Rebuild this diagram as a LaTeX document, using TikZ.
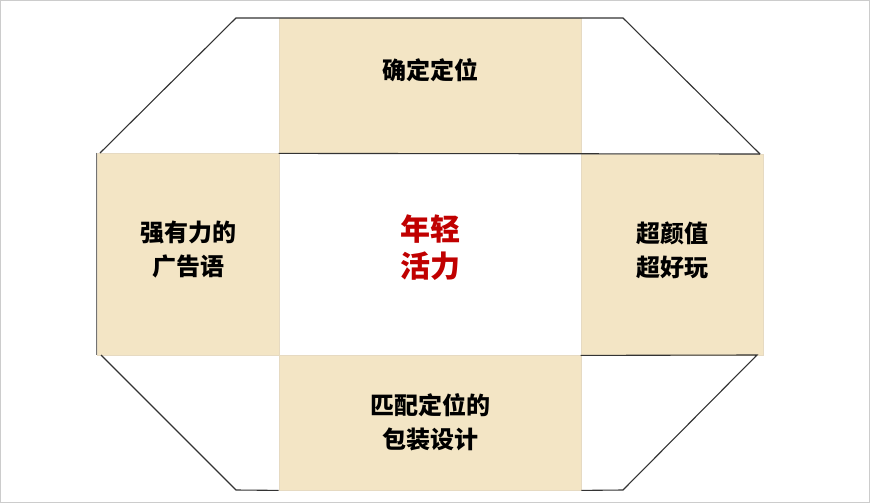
\documentclass[tikz,border=0pt]{standalone}
\usepackage{fontspec}
\newfontfamily\cjk{Noto Sans CJK SC}
\definecolor{boxfill}{HTML}{F3E5C5}
\definecolor{boxedge}{HTML}{E6DAC2}
\definecolor{linedark}{HTML}{333333}
\definecolor{redtext}{HTML}{C00000}
\tikzset{
  panel/.style={draw=boxedge, line width=0.8pt, fill=boxfill, inner sep=0pt},
  outline/.style={draw=linedark, line width=1.1pt},
  label/.style={font=\cjk\bfseries\fontsize{24}{34}\selectfont, align=center, text=black},
  core/.style={font=\cjk\bfseries\fontsize{30}{37}\selectfont, align=center, text=redtext}
}
\begin{document}
\begin{tikzpicture}[x=1pt,y=-1pt]
\useasboundingbox (0,0) rectangle (870,503);
\draw[draw=black!20, line width=1pt] (0.5,0.5) rectangle (869,502);
% panels
\node[panel, minimum width=302pt, minimum height=135pt] (top) at (430,85.5) {};
\node[panel, minimum width=182pt, minimum height=202pt] (left) at (188,254) {};
\node[panel, minimum width=182pt, minimum height=201pt] (right) at (672,254.5) {};
\node[panel, minimum width=302pt, minimum height=135pt] (bottom) at (430,422.5) {};
\node[inner sep=0pt, minimum width=302pt, minimum height=202pt] (center) at (430,254) {};
% outline lines
\coordinate (a1) at (100,153);
\coordinate (a2) at (236,18);
\coordinate (a3) at (623,18);
\coordinate (a4) at (760,154);
\coordinate (b1) at (101,355);
\coordinate (b2) at (236,490);
\coordinate (b3) at (623,490);
\coordinate (b4) at (757,355);
\draw[outline, line join=miter] (a1) -- (a2) -- (a3) -- (a4);
\draw[outline] (top.south west) -- (a4);
\draw[draw=black!55, line width=1.2pt] (left.north west) -- (left.south west);
\draw[outline] (b1) -- (b2) -- (bottom.south west);
\draw[outline] (right.south west) -- (b4) -- (b3) -- (bottom.south east);
% texts
\node[label] (ttop) at (430,70) {确定定位};
\node[label] (tleft) at (188,250) {强有力的\\广告语};
\node[label] (tright) at (672,250) {超颜值\\超好玩};
\node[label] (tbottom) at (430,422) {匹配定位的\\包装设计};
\node[core] (tcenter) at (430,248) {年轻\\活力};
\end{tikzpicture}
\end{document}
